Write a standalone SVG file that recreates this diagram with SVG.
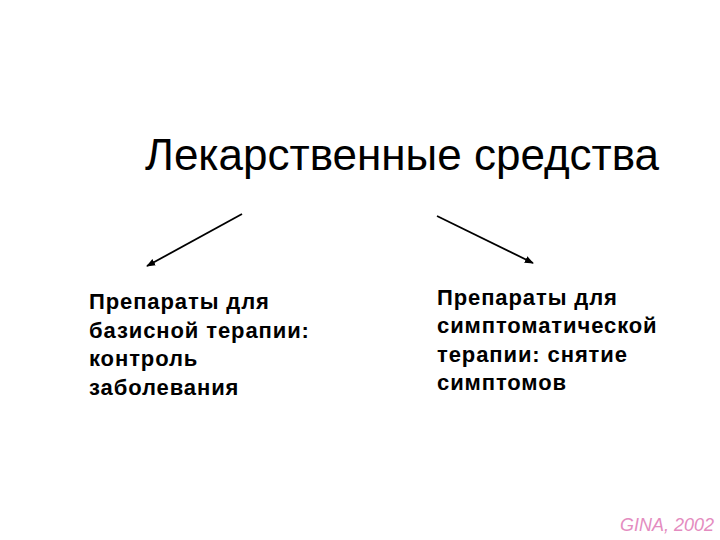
<svg xmlns="http://www.w3.org/2000/svg" width="720" height="540" viewBox="0 0 720 540">
<style>
.title{font-family:"Liberation Sans",Arial,sans-serif;font-size:44px;fill:#000}
.body{font-family:"Liberation Sans",Arial,sans-serif;font-size:22px;font-weight:bold;fill:#000;letter-spacing:0.9px}
.note{font-family:"Liberation Sans",Arial,sans-serif;font-size:18px;font-style:italic;fill:#e48cc0}
.conn{stroke:#000;stroke-width:1.8;fill:none;marker-end:url(#ah)}
</style>
<defs>
<marker id="ah" viewBox="0 0 10 10" refX="9" refY="5" markerWidth="5" markerHeight="5" orient="auto" markerUnits="strokeWidth">
<path d="M0,1 L10,5 L0,9 Z" fill="#000"/>
</marker>
</defs>
<rect width="720" height="540" fill="#fff"/>
<g id="title"><text class="title" x="145" y="170">Лекарственные средства</text></g>
<g id="connectors">
<line class="conn" x1="242" y1="214" x2="147" y2="266"/>
<line class="conn" x1="437" y1="216" x2="533" y2="263"/>
</g>
<g id="left">
<text class="body" x="89" y="309">Препараты для</text>
<text class="body" x="89" y="338">базисной терапии:</text>
<text class="body" x="89" y="366">контроль</text>
<text class="body" x="89" y="395">заболевания</text>
</g>
<g id="right">
<text class="body" x="437" y="305">Препараты для</text>
<text class="body" x="437" y="333">симптоматической</text>
<text class="body" x="437" y="362">терапии: снятие</text>
<text class="body" x="437" y="390">симптомов</text>
</g>
<g id="note"><text class="note" x="620" y="531">GINA, 2002</text></g>
</svg>
